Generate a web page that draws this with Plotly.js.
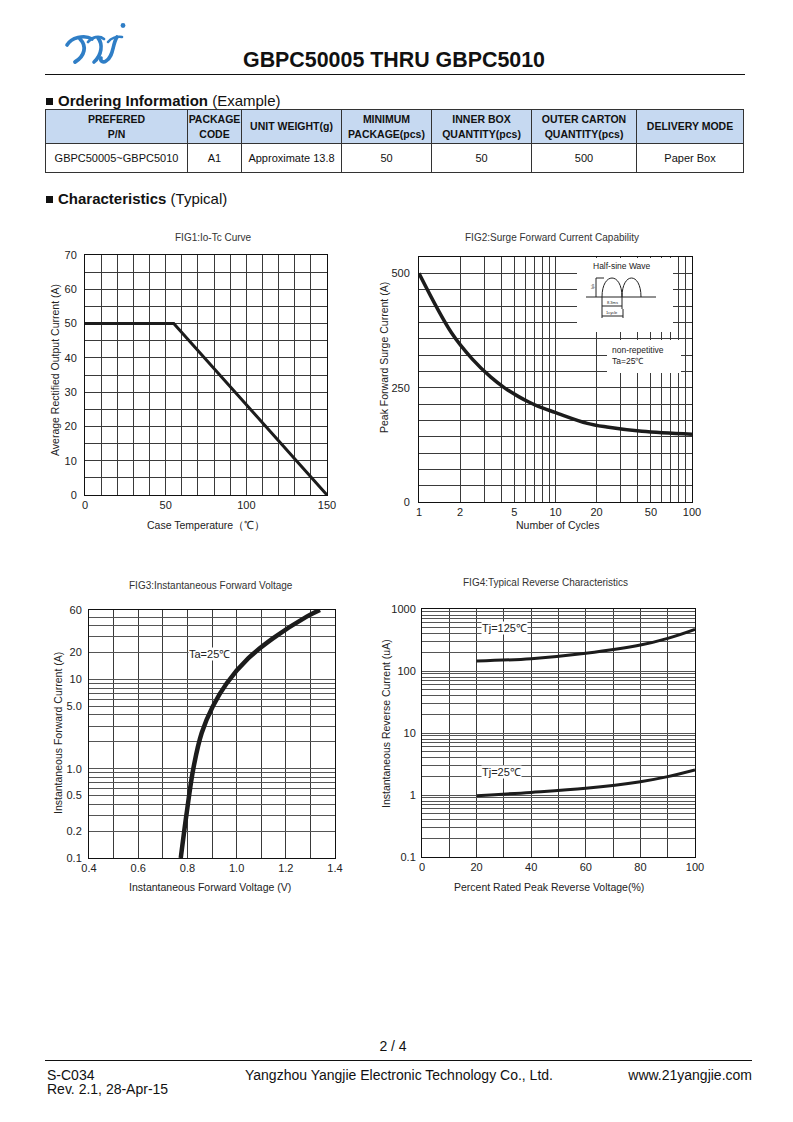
<!DOCTYPE html>
<html>
<head>
<meta charset="utf-8">
<script src="https://cdn.plot.ly/plotly-3.0.1.min.js"></script>
<style>
  html, body { margin:0; padding:0; background:#fff; }
  body { width:793px; height:1122px; position:relative; overflow:hidden; font-family:"Liberation Sans", Arial, sans-serif; color:#111; }
  .abs { position:absolute; white-space:nowrap; }
  #plots { position:absolute; left:0; top:220px; width:793px; height:700px; }
  table.ord { position:absolute; left:45px; top:109px; border-collapse:collapse; table-layout:fixed; z-index:5; }
  table.ord td { border:1px solid #333; text-align:center; vertical-align:middle; padding:0; font-size:11px; line-height:15px; }
  table.ord tr.h td { background:#c6d9f1; font-weight:bold; height:33px; font-size:10.5px; }
  table.ord tr.d td { height:28px; }
  .sec { font-size:15px; line-height:17px; }
  .sec .sq { display:inline-block; width:7px; height:7px; background:#111; margin-right:5px; vertical-align:1px; }
  .foot { font-size:14px; line-height:16px; }
</style>
</head>
<body>

<svg class="abs" style="left:55px;top:15px" width="85" height="55" viewBox="0 0 85 55">
  <g fill="none" stroke="#2f7ec6" stroke-linecap="round">
    <path d="M12,30 C16,23 29,19 37,24" stroke-width="3.6"/>
    <path d="M25,24 C32,31 30,41 20,47" stroke-width="3.8"/>
    <path d="M33,27 C37,22 44,20 49,24" stroke-width="2.8"/>
    <path d="M43,23 C48,29 47,40 39,47" stroke-width="3.6"/>
    <path d="M53,27 C56,23 62,21 67,22" stroke-width="2.6"/>
    <path d="M62,22 C57,30 59,41 51,46 C48,48 45,46 46,43" stroke-width="3.6"/>
  </g>
  <circle cx="68" cy="10.5" r="2.4" fill="#2f7ec6"/>
</svg>

<div class="abs" style="left:243px;top:50px;font-size:21.4px;line-height:21px;font-weight:bold;">GBPC50005 THRU GBPC5010</div>
<div class="abs" style="left:45px;top:74px;width:700px;height:0;border-top:1.5px solid #111;"></div>

<div class="abs sec" style="left:46px;top:92px;"><span class="sq"></span><b>Ordering Information</b> (Example)</div>

<table class="ord" id="ordtable"></table>

<div class="abs sec" style="left:46px;top:190px;"><span class="sq"></span><b>Characteristics</b> (Typical)</div>

<div id="plots"></div>

<div class="abs foot" style="left:0;width:786px;text-align:center;top:1038px;">2 / 4</div>
<div class="abs" style="left:45px;top:1060px;width:707px;height:0;border-top:1px solid #111;"></div>
<div class="abs foot" style="left:47px;top:1067px;">S-C034</div>
<div class="abs foot" style="left:47px;top:1081px;">Rev. 2.1, 28-Apr-15</div>
<div class="abs foot" style="left:245px;top:1067px;">Yangzhou Yangjie Electronic Technology Co., Ltd.</div>
<div class="abs foot" style="right:41px;top:1067px;">www.21yangjie.com</div>

<script>
// ---------------- Table data ----------------
const tableHeaders = ["PREFERED<br>P/N", "PACKAGE<br>CODE", "UNIT WEIGHT(g)", "MINIMUM<br>PACKAGE(pcs)", "INNER BOX<br>QUANTITY(pcs)", "OUTER CARTON<br>QUANTITY(pcs)", "DELIVERY MODE"];
const tableRow = ["GBPC50005~GBPC5010", "A1", "Approximate 13.8", "50", "50", "500", "Paper Box"];
const tableColWidths = [142, 54, 100, 90, 100, 105, 107];

// ---------------- FIG1: Io-Tc ----------------
const fig1Temp = [0, 55, 150];
const fig1Current = [50, 50, 0];
const fig1XLabels = [0, 50, 100, 150];
const fig1YLabels = [0, 10, 20, 30, 40, 50, 60, 70];

// ---------------- FIG2: Surge ----------------
const fig2Cycles = [1, 1.73, 2.45, 3.36, 4.26, 5.33, 6.43, 7.48, 9.91, 17.1, 23.8, 43, 100];
const fig2Current = [500, 370, 313, 273, 249, 231, 218, 209, 196, 172, 164, 154.5, 148];
const fig2XLabels = [1, 2, 5, 10, 20, 50, 100];
const fig2YLabels = [0, 250, 500];

// ---------------- FIG3: Forward voltage ----------------
const fig3Voltage = [0.773, 0.797, 0.824, 0.858, 0.903, 0.960, 1.048, 1.149, 1.285, 1.339];
const fig3Current = [0.1, 0.318, 1.0, 2.51, 4.97, 9.08, 17.3, 29.0, 50.6, 60];
const fig3XLabels = [0.4, 0.6, 0.8, 1.0, 1.2, 1.4];
const fig3XText = ["0.4", "0.6", "0.8", "1.0", "1.2", "1.4"];
const fig3YLabels = [0.1, 0.2, 0.5, 1, 5, 10, 20, 60];
const fig3YText = ["0.1", "0.2", "0.5", "1.0", "5.0", "10", "20", "60"];

// ---------------- FIG4: Reverse ----------------
const fig4Percent = [20, 40, 60, 80, 90, 100];
const fig4Tj125 = [145, 158, 193, 262, 336, 470];
const fig4Tj25 = [0.976, 1.10, 1.28, 1.64, 1.98, 2.53];
const fig4XLabels = [0, 20, 40, 60, 80, 100];
const fig4YLabels = [0.1, 1, 10, 100, 1000];
const fig4YText = ["0.1", "1", "10", "100", "1000"];

// ---------------- build table ----------------
(function(){
  const t = document.getElementById('ordtable');
  let html = '<colgroup>' + tableColWidths.map(w => '<col style="width:' + w + 'px">').join('') + '</colgroup>';
  html += '<tr class="h">' + tableHeaders.map(h => '<td>' + h + '</td>').join('') + '</tr>';
  html += '<tr class="d">' + tableRow.map(h => '<td>' + h + '</td>').join('') + '</tr>';
  t.innerHTML = html;
  t.style.width = tableColWidths.reduce((a,b)=>a+b,0) + 'px';
})();

// ---------------- plots ----------------
const FONT = '"Liberation Sans", Arial, sans-serif';
const W = 793, H = 700, OY = 220;
const P = x => x / W;
const Q = y => 1 - (y - OY) / H;

function range(a, b, s) { const r = []; for (let v = a; v <= b + 1e-9; v += s) r.push(+v.toFixed(6)); return r; }
function logGrid(d0, d1) { const r = []; for (let d = d0; d < d1; d++) for (let k = 1; k <= 9; k++) r.push(+(k * Math.pow(10, d)).toPrecision(6)); r.push(Math.pow(10, d1)); return r; }
function labelsFor(grid, vals, texts) {
  return grid.map(g => {
    const i = vals.findIndex(v => Math.abs(v - g) <= 1e-6 * Math.max(1, Math.abs(v)));
    return i >= 0 ? (texts ? texts[i] : String(vals[i])) : '';
  });
}

const axBase = {
  showgrid: true, gridcolor: '#3a3a3a', gridwidth: 1,
  showline: true, mirror: true, linecolor: '#111', linewidth: 1,
  ticks: '', zeroline: false, tickmode: 'array',
  tickfont: { family: FONT, size: 11, color: '#222' }, fixedrange: true
};

// grids
const g1x = range(0, 150, 10), g1y = range(0, 70, 5);
const g2x = logGrid(0, 2);
const g2y = []; for (let k = 0; k <= 15; k++) g2y.push(k * 500 / 14);
const g3x = range(0.4, 1.4, 0.1);
const g3y = [0.1,0.2,0.3,0.4,0.5,0.6,0.7,0.8,0.9,1,2,3,4,5,6,7,8,9,10,20,30,40,50,60];
const g4x = range(0, 100, 10), g4y = logGrid(-1, 3);

const layout = {
  width: W, height: H, margin: { l: 0, r: 0, t: 0, b: 0 },
  paper_bgcolor: 'rgba(0,0,0,0)', plot_bgcolor: '#fff', showlegend: false,
  xaxis:  Object.assign({}, axBase, { domain: [P(85), P(327)], anchor: 'y', range: [0, 150], tickvals: g1x, ticktext: labelsFor(g1x, fig1XLabels) }),
  yaxis:  Object.assign({}, axBase, { domain: [Q(495), Q(255)], anchor: 'x', range: [0, 70], tickvals: g1y, ticktext: labelsFor(g1y, fig1YLabels), ticklabelstandoff: 5 }),
  xaxis2: Object.assign({}, axBase, { domain: [P(419), P(692)], anchor: 'y2', type: 'log', range: [0, 2], tickvals: g2x, ticktext: labelsFor(g2x, fig2XLabels) }),
  yaxis2: Object.assign({}, axBase, { domain: [Q(502), Q(257)], anchor: 'x2', range: [0, 7500 / 14], tickvals: g2y, ticktext: labelsFor(g2y, fig2YLabels), ticklabelstandoff: 6 }),
  xaxis3: Object.assign({}, axBase, { domain: [P(89), P(335)], anchor: 'y3', range: [0.4, 1.4], tickvals: g3x, ticktext: labelsFor(g3x, fig3XLabels, fig3XText) }),
  yaxis3: Object.assign({}, axBase, { domain: [Q(858), Q(610)], anchor: 'x3', type: 'log', range: [-1, Math.log10(60)], tickvals: g3y, ticktext: labelsFor(g3y, fig3YLabels, fig3YText), gridcolor: '#555', ticklabelstandoff: 4 }),
  xaxis4: Object.assign({}, axBase, { domain: [P(422), P(695)], anchor: 'y4', range: [0, 100], tickvals: g4x, ticktext: labelsFor(g4x, fig4XLabels) }),
  yaxis4: Object.assign({}, axBase, { domain: [Q(857), Q(609)], anchor: 'x4', type: 'log', range: [-1, 3], tickvals: g4y, ticktext: labelsFor(g4y, fig4YLabels, fig4YText), gridcolor: '#555', ticklabelstandoff: 3 }),
  annotations: [],
  shapes: []
};

function txt(x, y, text, opts) {
  layout.annotations.push(Object.assign({
    xref: 'paper', yref: 'paper', x: P(x), y: Q(y), text: text, showarrow: false,
    xanchor: 'center', yanchor: 'middle', font: { family: FONT, size: 10.5, color: '#222' }
  }, opts || {}));
}
// figure titles
const TF = { family: FONT, size: 10, color: '#333' };
txt(213, 238, 'FIG1:Io-Tc Curve', { font: TF });
txt(552, 238, 'FIG2:Surge Forward Current Capability', { font: TF });
txt(211, 585, 'FIG3:Instantaneous Forward Voltage', { font: TF });
txt(545, 582, 'FIG4:Typical Reverse Characteristics', { font: TF });
// axis titles
txt(206, 525, 'Case Temperature（℃）');
txt(55, 370, 'Average Rectified Output Current (A)', { textangle: -90 });
txt(557, 525, 'Number of Cycles');
txt(384, 358, 'Peak Forward Surge Current (A)', { textangle: -90 });
txt(210, 887, 'Instantaneous Forward Voltage (V)');
txt(58, 733, 'Instantaneous Forward Current (A)', { textangle: -90 });
txt(549, 887, 'Percent Rated Peak Reverse Voltage(%)');
txt(386, 724, 'Instantaneous Reverse Current (uA)', { textangle: -90 });

// FIG2 inset
function rect(x0, y0, x1, y1, fill) {
  layout.shapes.push({ type: 'rect', xref: 'paper', yref: 'paper', x0: P(x0), x1: P(x1), y0: Q(y1), y1: Q(y0), fillcolor: fill, line: { width: 0 }, layer: 'above' });
}
function seg(x0, y0, x1, y1) {
  layout.shapes.push({ type: 'line', xref: 'paper', yref: 'paper', x0: P(x0), y0: Q(y0), x1: P(x1), y1: Q(y1), line: { color: '#222', width: 1 }, layer: 'above' });
}
function arch(xa, xb, yb, yt) {
  const k = (yb - yt) / 0.75;
  const d = 'M' + P(xa) + ',' + Q(yb) + ' C' + P(xa) + ',' + Q(yb - k) + ' ' + P(xb) + ',' + Q(yb - k) + ' ' + P(xb) + ',' + Q(yb);
  layout.shapes.push({ type: 'path', xref: 'paper', yref: 'paper', path: d, line: { color: '#222', width: 1 }, layer: 'above' });
}
rect(577, 258, 673, 332, '#fff');
rect(607, 340, 681, 373, '#fff');
txt(622, 266, 'Half-sine Wave', { font: { family: FONT, size: 8.5, color: '#222' } });
seg(586, 297, 656, 297);
arch(602, 622, 297, 278);
arch(622, 641, 297, 278);
seg(596, 278, 596, 297); seg(596, 278, 604, 278);
seg(602, 297, 602, 318); seg(622, 297, 622, 309); seg(623, 309, 623, 318);
seg(602, 306, 622, 306); seg(602, 316, 623, 316);
txt(612, 302.5, '8.3ms', { font: { family: FONT, size: 4, color: '#222' } });
txt(612, 312.5, '1cycle', { font: { family: FONT, size: 4, color: '#222' } });
txt(592, 287, 'Ipk', { textangle: -90, font: { family: FONT, size: 4, color: '#222' } });
txt(610, 350, 'non-repetitive', { xanchor: 'left', font: { family: FONT, size: 8.5, color: '#222' } });
txt(610, 361, 'Ta=25℃', { xanchor: 'left', font: { family: FONT, size: 8.5, color: '#222' } });

// curve labels
txt(210, 654, 'Ta=25℃', { bgcolor: '#fff', borderpad: 0, font: { family: FONT, size: 11, color: '#222' } });
txt(481, 628, 'Tj=125℃', { xanchor: 'left', bgcolor: '#fff', borderpad: 0, font: { family: FONT, size: 11, color: '#222' } });
txt(481, 772, 'Tj=25℃', { xanchor: 'left', bgcolor: '#fff', borderpad: 0, font: { family: FONT, size: 11, color: '#222' } });

const LC = '#1c1c1c';
const traces = [
  { x: fig1Temp, y: fig1Current, xaxis: 'x', yaxis: 'y', mode: 'lines', line: { color: LC, width: 3 } },
  { x: fig2Cycles, y: fig2Current, xaxis: 'x2', yaxis: 'y2', mode: 'lines', line: { color: LC, width: 3.5, shape: 'spline', smoothing: 1 } },
  { x: fig3Voltage, y: fig3Current, xaxis: 'x3', yaxis: 'y3', mode: 'lines', line: { color: LC, width: 4.5, shape: 'spline', smoothing: 1 } },
  { x: fig4Percent, y: fig4Tj125, xaxis: 'x4', yaxis: 'y4', mode: 'lines', line: { color: LC, width: 3, shape: 'spline', smoothing: 1 } },
  { x: fig4Percent, y: fig4Tj25, xaxis: 'x4', yaxis: 'y4', mode: 'lines', line: { color: LC, width: 3, shape: 'spline', smoothing: 1 } }
];

Plotly.newPlot('plots', traces, layout, { staticPlot: true, displayModeBar: false });
</script>
</body>
</html>
